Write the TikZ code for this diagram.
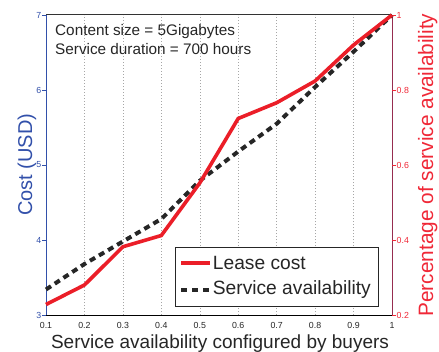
\documentclass[tikz,border=0pt]{standalone}
\usepackage{fontspec}
\setmainfont{Liberation Sans}
\begin{document}
\begin{tikzpicture}[x=1pt,y=1pt,
  axblue/.style={draw=axisblue, line width=1pt},
  gridline/.style={draw=gray!70, line width=0.5pt, dash pattern=on 0.8pt off 2.2pt},
  costline/.style={draw=leasered, line width=3.6pt, line join=miter},
  availline/.style={draw=black!85, line width=4pt, dash pattern=on 6pt off 4.5pt},
  ticklbl/.style={font=\fontsize{8.8}{10}\selectfont, inner sep=0pt},
  notetext/.style={font=\fontsize{15.3}{18}\selectfont, inner sep=0pt, anchor=base west, text=black!85},
  axislabel/.style={font=\fontsize{20}{24}\selectfont, inner sep=0pt, anchor=base},
  legtext/.style={font=\fontsize{19.2}{22}\selectfont, inner sep=0pt, anchor=west, text=black!85}]
\definecolor{axisblue}{RGB}{50,80,170}
\definecolor{leasered}{RGB}{235,30,40}
\definecolor{labelred}{RGB}{240,40,55}
\definecolor{rightaxis}{RGB}{150,45,80}
\useasboundingbox (0,0) rectangle (439,351);
\fill[white] (0,0) rectangle (439,351);

% vertical grid at x = 0.2 ... 0.9
\foreach \k in {1,...,8}
  \draw[gridline] ({46+\k*38.444},36) -- ({46+\k*38.444},336);

% axes frame
\draw[black!80, line width=1pt] (46,336) -- (392,336);
\draw[black, line width=1pt] (46,36) -- (392,36);
\draw[axblue] (46,36) -- (46,336);
\draw[rightaxis, line width=1pt] (392,36) -- (392,336);

% left ticks (cost, USD)
\foreach \c [count=\i from 0] in {3,4,5,6,7} {
  \draw[axisblue, line width=0.6pt] (42,{36+\i*75}) -- (46,{36+\i*75});
  \node[ticklbl, text=axisblue, anchor=east] (lt\c) at (41.5,{36+\i*75}) {\c};
}
% right ticks (availability)
\foreach \a [count=\i from 0] in {0.2,0.4,0.6,0.8,1} {
  \draw[labelred, line width=0.6pt] (392,{36+\i*75}) -- (396,{36+\i*75});
  \node[ticklbl, text=labelred, anchor=west] (rt\i) at (396.5,{36+\i*75}) {\a};
}
% bottom tick labels
\foreach \v [count=\i from 0] in {0.1,0.2,0.3,0.4,0.5,0.6,0.7,0.8,0.9,1}
  \node[ticklbl, text=black!85] (bt\i) at ({46+\i*38.444},25.5) {\v};

% data curves in (availability setting, cost) units
\begin{scope}[shift={(7.556pt,-189pt)}, x=384.44pt, y=75pt]
  \draw[availline] plot coordinates {(0.1,3.34) (0.2,3.68) (0.3,3.98) (0.4,4.28) (0.5,4.79)
     (0.6,5.18) (0.7,5.55) (0.8,6.04) (0.9,6.51) (1.0,7.0)};
  \draw[costline] plot coordinates {(0.1,3.14) (0.2,3.40) (0.3,3.91) (0.4,4.06) (0.5,4.76)
     (0.6,5.62) (0.7,5.83) (0.8,6.12) (0.9,6.60) (1.0,7.0)};
\end{scope}

% annotation
\node[notetext] (note1) at (55,315) {Content size = 5Gigabytes};
\node[notetext] (note2) at (55,296) {Service duration = 700 hours};

% legend
\draw[black!85, line width=1pt, fill=white] (175,45) rectangle (378.3,103.7);
\coordinate (l1a) at (181,88.3);  \coordinate (l1b) at (209.5,88.3);
\coordinate (l2a) at (181,61);    \coordinate (l2b) at (209.5,61);
\draw[costline, line cap=butt] (l1a) -- (l1b);
\draw[availline, dash pattern=on 6pt off 5.2pt] (l2a) -- (l2b);
\node[legtext] (leg1) at (212.7,88.3) {Lease cost};
\node[legtext] (leg2) at (212.7,61) {Service availability};

% axis labels
\node[axislabel, font=\fontsize{19}{22}\selectfont, text=black!85] (xlab) at (220,3) {Service availability configured by buyers};
\node[axislabel, text=axisblue, rotate=90] (ylab) at (32,186.3) {Cost (USD)};
\node[axislabel, text=labelred, rotate=90, font=\fontsize{20.8}{24}\selectfont] (y2lab) at (433,186) {Percentage of service availability};
\end{tikzpicture}
\end{document}
